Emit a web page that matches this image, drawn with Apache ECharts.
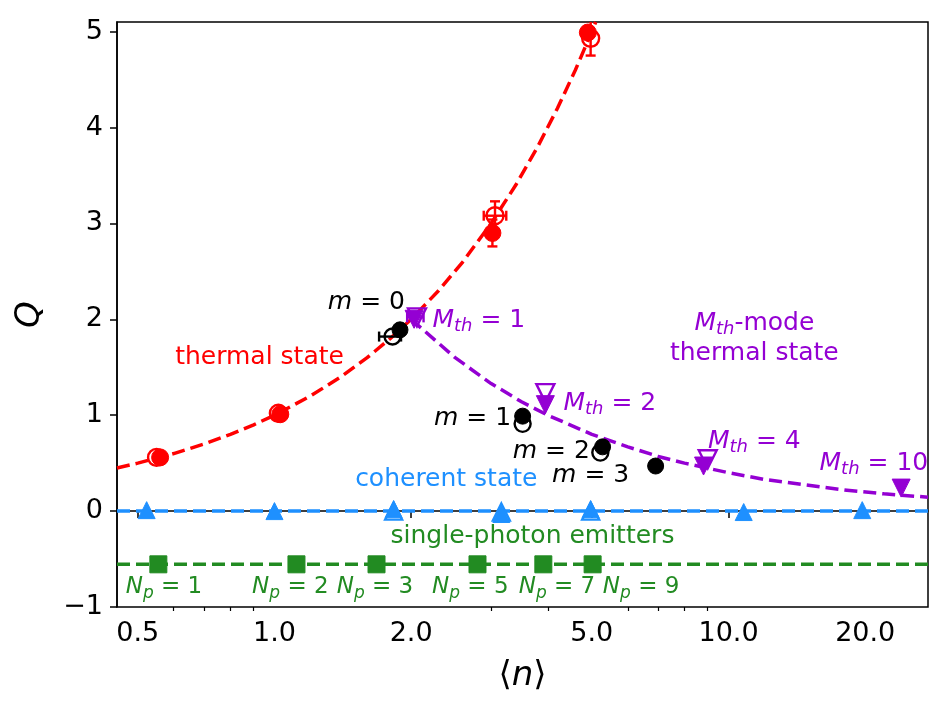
<!DOCTYPE html>
<html>
<head>
<meta charset="utf-8">
<style>
  html, body { margin: 0; padding: 0; background: #fff; }
  #chart { width: 951px; height: 710px; }
</style>
<script src="https://cdn.jsdelivr.net/npm/echarts@6/dist/echarts.min.js"></script>
</head>
<body>
<div id="chart"></div>
<script>
// axis ticks
const xMajorTicks = [0.5, 1, 2, 5, 10, 20];
const xMinorTicks = [0.6, 0.7, 0.8, 0.9, 3, 4, 6, 7, 8, 9];
const yTicks = [-1, 0, 1, 2, 3, 4, 5];

// theory curves
const thermalCurve = [[0.45, 0.45], [0.5, 0.5], [0.6, 0.6], [0.7, 0.7], [0.8, 0.8], [0.9, 0.9], [1, 1], [1.2, 1.2], [1.4, 1.4], [1.6, 1.6], [1.8, 1.8], [2, 2], [2.3, 2.3], [2.6, 2.6], [3, 3], [3.4, 3.4], [3.8, 3.8], [4.2, 4.2], [4.6, 4.6], [5, 5], [5.1, 5.1]];
const multimodeCurve = [[2, 2], [2.5, 1.6], [3, 1.33], [3.5, 1.14], [4, 1], [5, 0.8], [6, 0.67], [7, 0.57], [8, 0.5], [10, 0.4], [12, 0.33], [15, 0.27], [18, 0.22], [22, 0.18], [27.5, 0.145]];
const coherentLine = [[0.45, 0], [27.5, 0]];
const emitterLine = [[0.45, -0.555], [27.5, -0.555]];

// measured points [<n>, Q]
const thermalFilled = [[0.56, 0.56], [1.03, 1.01], [3.02, 2.90], [4.90, 4.99]];
const thermalOpen = [[0.55, 0.56], [1.02, 1.02], [3.06, 3.08], [4.97, 4.93]];
const heraldFilled = [[1.89, 1.89], [3.52, 0.99], [5.28, 0.67], [6.91, 0.47]];
const heraldOpen = [[1.82, 1.82], [3.52, 0.91], [5.22, 0.61]];
const multiFilled = [[2.03, 2.0], [3.95, 1.11], [8.81, 0.47], [24.0, 0.24]];
const multiOpen = [[2.06, 2.02], [3.95, 1.23], [9.0, 0.54]];
const coherentFilled = [[0.523, 0.01], [1.0, 0.0], [1.83, 0.02], [3.16, -0.03], [4.97, 0.02], [10.8, -0.01], [19.7, 0.01]];
const coherentOpen = [[1.83, 0.0], [3.16, -0.01], [4.97, 0.0]];
const emitterFilled = [[0.555, -0.555], [1.118, -0.555], [1.678, -0.555], [2.80, -0.555], [3.91, -0.555], [5.02, -0.555]];

// error bars [<n>, Q, nLow, nHigh, qLow, qHigh]
const thermalErr = [[3.06, 3.08, 2.89, 3.24, 2.93, 3.23], [3.02, 2.90, 3.02, 3.02, 2.76, 3.04], [4.97, 4.93, 4.97, 4.97, 4.75, 5.11]];
const heraldErr = [[1.82, 1.82, 1.70, 1.90, 1.82, 1.82]];
const multiErr = [[2.06, 2.02, 1.96, 2.13, 2.02, 2.02]];

const RED = "#ff0000", PURPLE = "#9400d3", BLUE = "#1e90ff", GREEN = "#228b22";
const FONT = "DejaVu Sans";

const rich = {
	i: { fontStyle: "italic", fontSize: 25, lineHeight: 30, fontFamily: FONT },
	n: { fontSize: 25, lineHeight: 30, fontFamily: FONT },
	s: { fontStyle: "italic", fontSize: 18, lineHeight: 16, verticalAlign: "bottom", fontFamily: FONT },
	pi: { fontStyle: "italic", fontSize: 23, lineHeight: 30, fontFamily: FONT },
	pn: { fontSize: 23, lineHeight: 30, fontFamily: FONT },
	ps: { fontStyle: "italic", fontSize: 17, lineHeight: 16, verticalAlign: "bottom", fontFamily: FONT }
};

// annotation text: [text, <n>, Q, color, align]
const notes = [
	["{i|m}{n| = 0}", 1.594, 2.17, "#000", "center"],
	["{i|M}{s|th}{n| = 1}", 2.228, 1.99, PURPLE, "left"],
	["{n|thermal state}", 0.927, 1.60, RED, "center"],
	["{i|M}{s|th}{n|-mode}\n{n|thermal state}", 11.4, 1.80, PURPLE, "center"],
	["{i|M}{s|th}{n| = 2}", 4.33, 1.12, PURPLE, "left"],
	["{i|m}{n| = 1}", 2.73, 0.97, "#000", "center"],
	["{i|m}{n| = 2}", 4.07, 0.62, "#000", "center"],
	["{i|m}{n| = 3}", 4.97, 0.37, "#000", "center"],
	["{i|M}{s|th}{n| = 4}", 11.4, 0.73, PURPLE, "center"],
	["{i|M}{s|th}{n| = 10}", 20.9, 0.50, PURPLE, "center"],
	["{n|coherent state}", 2.39, 0.33, BLUE, "center"],
	["{n|single-photon emitters}", 3.70, -0.27, GREEN, "center"],
	["{pi|N}{ps|p}{pn| = 1}", 0.571, -0.79, GREEN, "center"],
	["{pi|N}{ps|p}{pn| = 2}", 1.084, -0.79, GREEN, "center"],
	["{pi|N}{ps|p}{pn| = 3}", 1.665, -0.79, GREEN, "center"],
	["{pi|N}{ps|p}{pn| = 5}", 2.70, -0.79, GREEN, "center"],
	["{pi|N}{ps|p}{pn| = 7}", 4.19, -0.79, GREEN, "center"],
	["{pi|N}{ps|p}{pn| = 9}", 6.42, -0.79, GREEN, "center"]
];

function curve(data, color) {
	return {
		type: "line", data: data, symbol: "none", smooth: false, z: 2,
		lineStyle: { color: color, width: 3.5, type: [13, 6], opacity: 1 }
	};
}

function points(data, color, symbol, size, filled, rotate) {
	return {
		type: "scatter", data: data, symbol: symbol, symbolSize: size,
		symbolRotate: rotate || 0, z: filled ? 5 : 4,
		itemStyle: filled
			? { color: color, borderColor: color, borderWidth: 1, opacity: 1 }
			: { color: "rgba(255,255,255,0)", borderColor: color, borderWidth: 2.4, opacity: 1 }
	};
}

function errorBars(data, color) {
	return {
		type: "custom", data: data, z: 6, clip: true,
		encode: { x: 0, y: 1 },
		renderItem: function(params, api) {
			let y = api.value(1), x = api.value(0);
			let kids = [];
			let st = { stroke: color, lineWidth: 2.4 };
			let cap = 5;
			if (api.value(2) !== api.value(3)) {
				let a = api.coord([api.value(2), y]), b = api.coord([api.value(3), y]);
				kids.push({ type: "line", shape: { x1: a[0], y1: a[1], x2: b[0], y2: b[1] }, style: st });
				kids.push({ type: "line", shape: { x1: a[0], y1: a[1] - cap, x2: a[0], y2: a[1] + cap }, style: st });
				kids.push({ type: "line", shape: { x1: b[0], y1: b[1] - cap, x2: b[0], y2: b[1] + cap }, style: st });
			}
			if (api.value(4) !== api.value(5)) {
				let a = api.coord([x, api.value(4)]), b = api.coord([x, api.value(5)]);
				kids.push({ type: "line", shape: { x1: a[0], y1: a[1], x2: b[0], y2: b[1] }, style: st });
				kids.push({ type: "line", shape: { x1: a[0] - cap, y1: a[1], x2: a[0] + cap, y2: a[1] }, style: st });
				kids.push({ type: "line", shape: { x1: b[0] - cap, y1: b[1], x2: b[0] + cap, y2: b[1] }, style: st });
			}
			return { type: "group", children: kids };
		}
	};
}

let chart = echarts.init(document.getElementById("chart"), null, { renderer: "canvas" });

let option = {
	animation: false,
	backgroundColor: "#fff",
	textStyle: { fontFamily: FONT },
	grid: {
		left: 117, right: 23, top: 22, bottom: 103,
		show: true, borderColor: "#000", borderWidth: 1.5, backgroundColor: "transparent"
	},
	xAxis: [
		{
			type: "log", logBase: 10, min: 0.45, max: 27.5,
			name: "{a|\u27e8}{i|n}{a|\u27e9}", nameLocation: "middle", nameGap: 52,
			nameTextStyle: {
				rich: {
					a: { fontSize: 34, fontFamily: FONT, color: "#000" },
					i: { fontSize: 34, fontStyle: "italic", fontFamily: FONT, color: "#000" }
				}
			},
			axisLine: { lineStyle: { color: "#000", width: 1.5 } },
			axisTick: { customValues: xMajorTicks, length: 7, lineStyle: { color: "#000", width: 1.5 } },
			axisLabel: {
				customValues: xMajorTicks, color: "#000", fontSize: 27, margin: 13,
				formatter: function(v) { return Number(v).toFixed(1); }
			},
			splitLine: { show: false }
		},
		{
			type: "log", logBase: 10, min: 0.45, max: 27.5, position: "bottom", gridIndex: 0,
			axisLine: { show: false },
			axisTick: { customValues: xMinorTicks, length: 4, lineStyle: { color: "#000", width: 1.2 } },
			axisLabel: { show: false },
			splitLine: { show: false }
		}
	],
	yAxis: {
		type: "value", min: -1, max: 5.1,
		name: "Q", nameLocation: "middle", nameGap: 70,
		nameTextStyle: { fontSize: 34, fontStyle: "italic", color: "#000", fontFamily: FONT },
		axisLine: { show: true, lineStyle: { color: "#000", width: 1.5 } },
		axisTick: { show: true, customValues: yTicks, length: 7, lineStyle: { color: "#000", width: 1.5 } },
		axisLabel: {
			customValues: yTicks, color: "#000", fontSize: 27, margin: 14,
			formatter: function(v) { return v < 0 ? "\u2212" + Math.abs(v) : String(v); }
		},
		splitLine: { show: false }
	},
	series: [
		curve(coherentLine, BLUE),
		curve(emitterLine, GREEN),
		curve(thermalCurve, RED),
		curve(multimodeCurve, PURPLE),
		points(coherentOpen, BLUE, "triangle", 17, false),
		points(coherentFilled, BLUE, "triangle", 17, true),
		points(emitterFilled, GREEN, "rect", 17, true),
		points(thermalOpen, RED, "circle", 17, false),
		points(thermalFilled, RED, "circle", 17, true),
		points(heraldOpen, "#000", "circle", 16, false),
		points(heraldFilled, "#000", "circle", 16, true),
		points(multiOpen, PURPLE, "triangle", 18, false, 180),
		points(multiFilled, PURPLE, "triangle", 18, true, 180),
		errorBars(thermalErr, RED),
		errorBars(heraldErr, "#000"),
		errorBars(multiErr, PURPLE),
		{
			type: "scatter", symbolSize: 0, z: 10, silent: true,
			itemStyle: { opacity: 1 },
			data: notes.map(function(n) {
				return {
					value: [n[1], n[2]],
					label: {
						show: true, position: "inside", formatter: n[0], color: n[3],
						opacity: 1, align: n[4], verticalAlign: "middle", rich: rich
					}
				};
			})
		}
	]
};

chart.setOption(option);
</script>
</body>
</html>
